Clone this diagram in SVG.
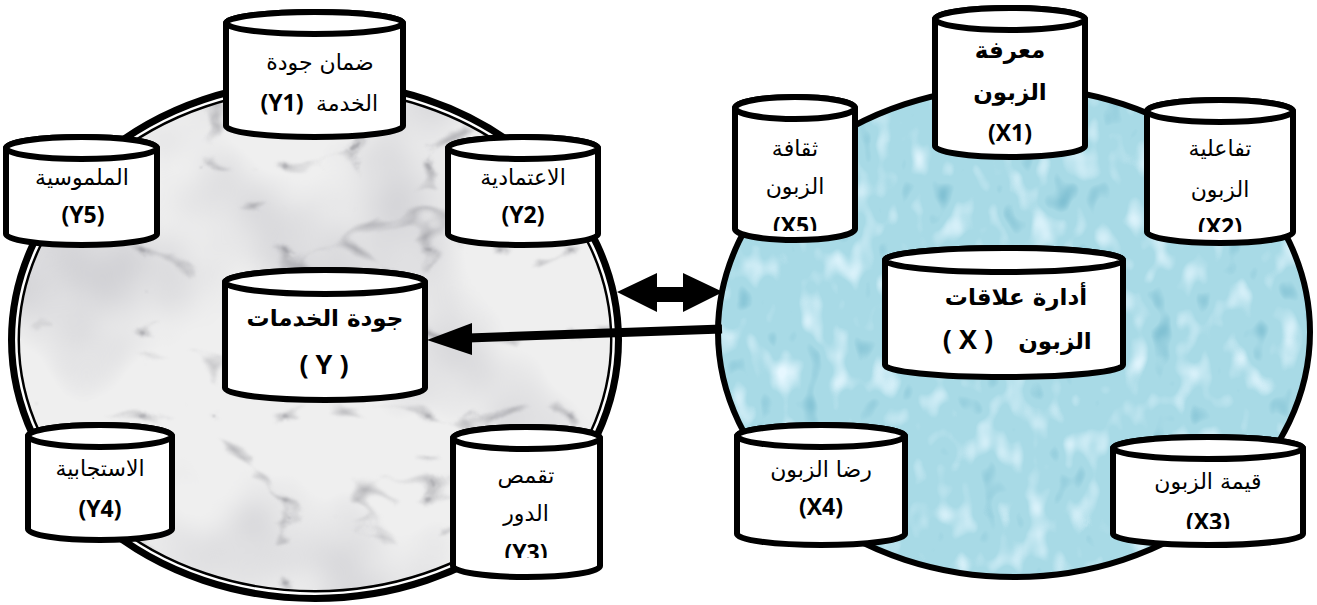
<svg xmlns="http://www.w3.org/2000/svg" width="1317" height="605" viewBox="0 0 1317 605">
<style>
.cyl{fill:#fff;stroke:#000;stroke-width:6;stroke-linejoin:round}
.lid{fill:#fff;stroke:#000;stroke-width:6}
.ar{font-family:"DejaVu Sans","Liberation Sans",sans-serif;font-size:22px;fill:#000;text-anchor:middle}
.arb{font-family:"DejaVu Sans","Liberation Sans",sans-serif;font-size:23px;font-weight:bold;fill:#000;text-anchor:middle}
.code{font-family:"Open Sans","Liberation Sans",sans-serif;font-size:23px;font-weight:bold;fill:#000;text-anchor:middle}
.big{font-size:27px}
</style>
<defs>
<filter id="marble" x="0" y="0" width="1" height="1" color-interpolation-filters="sRGB">
<feTurbulence type="turbulence" baseFrequency="0.007 0.012" numOctaves="3" seed="7" result="t"/>
<feColorMatrix in="t" type="matrix" values="0 0 0 0 0.45  0 0 0 0 0.45  0 0 0 0 0.48  -4 0 0 0 0.5" result="veins"/>
<feGaussianBlur in="veins" stdDeviation="0.8" result="vb"/>
<feTurbulence type="fractalNoise" baseFrequency="0.006" numOctaves="3" seed="2" result="c"/>
<feColorMatrix in="c" type="matrix" values="0 0 0 0 0.78  0 0 0 0 0.78  0 0 0 0 0.8  1.8 0 0 0 -0.85" result="cloud"/>
<feFlood flood-color="#efefef" result="base"/>
<feComposite in="cloud" in2="base" operator="over" result="b2"/>
<feComposite in="vb" in2="b2" operator="over" result="m"/>
<feComposite in="m" in2="SourceGraphic" operator="in"/>
</filter>
<filter id="water" x="0" y="0" width="1" height="1" color-interpolation-filters="sRGB">
<feTurbulence type="fractalNoise" baseFrequency="0.04 0.028" numOctaves="2" seed="4" result="n"/>
<feColorMatrix in="n" type="matrix" values="0 0 0 0 0.9  0 0 0 0 0.97  0 0 0 0 1  3 0 0 0 -1.6" result="hi"/>
<feColorMatrix in="n" type="matrix" values="0 0 0 0 0.45  0 0 0 0 0.72  0 0 0 0 0.8  -3 0 0 0 1.05" result="lo"/>
<feFlood flood-color="#a8dae6" result="base"/>
<feComposite in="lo" in2="base" operator="over" result="b2"/>
<feComposite in="hi" in2="b2" operator="over" result="w"/>
<feComposite in="w" in2="SourceGraphic" operator="in"/>
</filter>
<clipPath id="cY3"><rect x="450" y="420" width="160" height="138"/></clipPath>
<clipPath id="cX5"><rect x="730" y="90" width="130" height="141"/></clipPath>
<clipPath id="cX2"><rect x="1140" y="90" width="160" height="142"/></clipPath>
<clipPath id="cX3"><rect x="1110" y="430" width="200" height="99"/></clipPath>
</defs>

<g id="circle-left">
<ellipse cx="315" cy="340" rx="301" ry="256" fill="#fff" filter="url(#marble)"/>
<ellipse cx="315" cy="340" rx="301" ry="256" fill="none" stroke="#000" stroke-width="12"/>
<ellipse cx="315" cy="340" rx="298.7" ry="253.7" fill="none" stroke="#fff" stroke-width="2.5"/>
</g>
<g id="circle-right">
<ellipse cx="1014" cy="332" rx="296" ry="245" fill="#fff" filter="url(#water)"/>
<ellipse cx="1014" cy="332" rx="296" ry="245" fill="none" stroke="#000" stroke-width="6"/>
</g>

<g id="connectors">
<line x1="722" y1="329" x2="468" y2="338" stroke="#000" stroke-width="9"/>
<polygon points="427,340 472,323 472,355" fill="#000"/>
<polygon points="617,292 657,273 657,287 683,287 683,273 723,292 683,312 683,302 657,302 657,312" fill="#000"/>
</g>

<g id="Y1">
<path class="cyl" d="M226,23 A88.5,11 0 0 1 403,23 L403,126 A88.5,11 0 0 1 226,126 Z"/>
<ellipse class="lid" cx="314.5" cy="23" rx="88.5" ry="11"/>
<text class="ar" x="320" y="70">ضمان جودة</text>
<text class="ar" x="347" y="111">الخدمة</text>
<text class="code" x="282" y="111">(Y1)</text>
</g>
<g id="Y5">
<path class="cyl" d="M6,148 A75.5,11 0 0 1 157,148 L157,234 A75.5,11 0 0 1 6,234 Z"/>
<ellipse class="lid" cx="81.5" cy="148" rx="75.5" ry="11"/>
<text class="ar" x="82" y="185">الملموسية</text>
<text class="code" x="83" y="223">(Y5)</text>
</g>
<g id="Y2">
<path class="cyl" d="M448,148 A75,11 0 0 1 598,148 L598,234 A75,11 0 0 1 448,234 Z"/>
<ellipse class="lid" cx="523" cy="148" rx="75" ry="11"/>
<text class="ar" x="523" y="185">الاعتمادية</text>
<text class="code" x="523" y="223">(Y2)</text>
</g>
<g id="Y">
<path class="cyl" d="M225,282 A100,12 0 0 1 425,282 L425,388 A100,12 0 0 1 225,388 Z"/>
<ellipse class="lid" cx="325" cy="282" rx="100" ry="12"/>
<text class="arb" x="325" y="326">جودة الخدمات</text>
<text class="code big" x="324" y="374">( Y )</text>
</g>
<g id="Y4">
<path class="cyl" d="M28,436 A72,11 0 0 1 172,436 L172,529 A72,11 0 0 1 28,529 Z"/>
<ellipse class="lid" cx="100" cy="436" rx="72" ry="11"/>
<text class="ar" x="100" y="476">الاستجابية</text>
<text class="code" x="100" y="517">(Y4)</text>
</g>
<g id="Y3">
<path class="cyl" d="M453,438 A73.5,11 0 0 1 600,438 L600,566 A73.5,11 0 0 1 453,566 Z"/>
<ellipse class="lid" cx="526.5" cy="438" rx="73.5" ry="11"/>
<text class="ar" x="526" y="483">تقمص</text>
<text class="ar" x="526" y="521">الدور</text>
<text class="code" x="526" y="561" clip-path="url(#cY3)">(Y3)</text>
</g>

<g id="X5">
<path class="cyl" d="M735,108 A60,11 0 0 1 855,108 L855,229 A60,11 0 0 1 735,229 Z"/>
<ellipse class="lid" cx="795" cy="108" rx="60" ry="11"/>
<text class="ar" x="795" y="156">ثقافة</text>
<text class="ar" x="795" y="194">الزبون</text>
<text class="code" x="795" y="234" clip-path="url(#cX5)">(X5)</text>
</g>
<g id="X1">
<path class="cyl" d="M935,19 A75,11 0 0 1 1085,19 L1085,146 A75,11 0 0 1 935,146 Z"/>
<ellipse class="lid" cx="1010" cy="19" rx="75" ry="11"/>
<text class="arb" x="1010" y="58">معرفة</text>
<text class="arb" x="1010" y="100">الزبون</text>
<text class="code" x="1010" y="141">(X1)</text>
</g>
<g id="X2">
<path class="cyl" d="M1147,111 A73,11 0 0 1 1293,111 L1293,232 A73,11 0 0 1 1147,232 Z"/>
<ellipse class="lid" cx="1220" cy="111" rx="73" ry="11"/>
<text class="ar" x="1220" y="156">تفاعلية</text>
<text class="ar" x="1220" y="197">الزبون</text>
<text class="code" x="1220" y="235" clip-path="url(#cX2)">(X2)</text>
</g>
<g id="X">
<path class="cyl" d="M885,260 A119,12 0 0 1 1123,260 L1123,365 A119,12 0 0 1 885,365 Z"/>
<ellipse class="lid" cx="1004" cy="260" rx="119" ry="12"/>
<text class="arb" x="1016" y="305">أدارة علاقات</text>
<text class="arb" x="1055" y="349">الزبون</text>
<text class="code big" x="968" y="349">( X )</text>
</g>
<g id="X4">
<path class="cyl" d="M737,436 A84,11 0 0 1 905,436 L905,534 A84,11 0 0 1 737,534 Z"/>
<ellipse class="lid" cx="821" cy="436" rx="84" ry="11"/>
<text class="ar" x="821" y="477">رضا الزبون</text>
<text class="code" x="821" y="515">(X4)</text>
</g>
<g id="X3">
<path class="cyl" d="M1113,448 A95,11 0 0 1 1303,448 L1303,534 A95,11 0 0 1 1113,534 Z"/>
<ellipse class="lid" cx="1208" cy="448" rx="95" ry="11"/>
<text class="ar" x="1208" y="489">قيمة الزبون</text>
<text class="code" x="1208" y="530" clip-path="url(#cX3)">(X3)</text>
</g>
</svg>
